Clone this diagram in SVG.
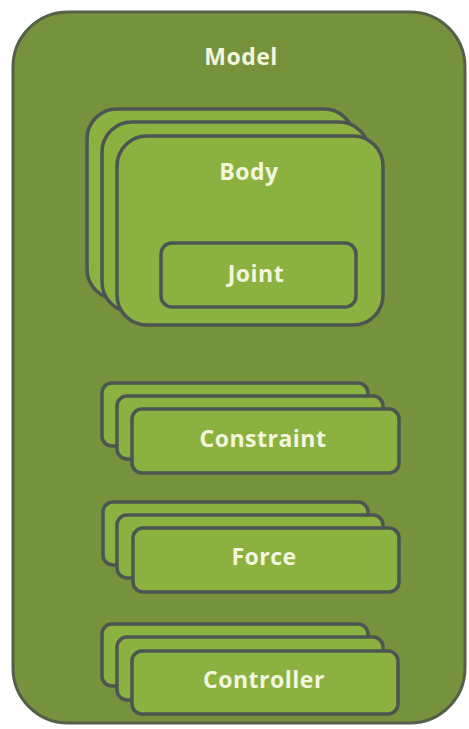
<svg xmlns="http://www.w3.org/2000/svg" width="469" height="729" viewBox="0 0 469 729">
<style>
.model{fill:#76923c;stroke:#55604a;stroke-width:3}
.box{fill:#8bb240;stroke:#4c5552;stroke-width:3.5}
.lbl{font-family:"Open Sans","Liberation Sans",sans-serif;font-weight:bold;font-size:23px;letter-spacing:0.5px;fill:#f2f6dc;text-anchor:middle}
</style>
<rect width="469" height="729" fill="#ffffff"/>
<g id="model">
<rect class="model" x="13" y="12" width="452" height="711" rx="55"/>
<text class="lbl" x="241" y="65">Model</text>
</g>
<g id="body">
<rect class="box" x="87" y="109" width="267" height="190" rx="30"/>
<rect class="box" x="102" y="122" width="267" height="190" rx="30"/>
<rect class="box" x="117" y="136" width="266" height="189" rx="30"/>
<text class="lbl" x="249" y="180">Body</text>
</g>
<g id="joint">
<rect class="box" x="161" y="243" width="195" height="64" rx="11"/>
<text class="lbl" x="256" y="282">Joint</text>
</g>
<g id="constraint">
<rect class="box" x="102" y="383" width="266" height="63" rx="10"/>
<rect class="box" x="117" y="396" width="266" height="63" rx="10"/>
<rect class="box" x="132" y="409" width="267" height="64" rx="10"/>
<text class="lbl" x="263" y="447">Constraint</text>
</g>
<g id="force">
<rect class="box" x="103" y="502" width="265" height="63" rx="10"/>
<rect class="box" x="117" y="515" width="266" height="63" rx="10"/>
<rect class="box" x="133" y="528" width="266" height="64" rx="10"/>
<text class="lbl" x="264" y="565">Force</text>
</g>
<g id="controller">
<rect class="box" x="102" y="624" width="266" height="62" rx="10"/>
<rect class="box" x="117" y="637" width="266" height="63" rx="10"/>
<rect class="box" x="132" y="651" width="266" height="63" rx="10"/>
<text class="lbl" x="264" y="688">Controller</text>
</g>
<g id="connectors"/>
</svg>
